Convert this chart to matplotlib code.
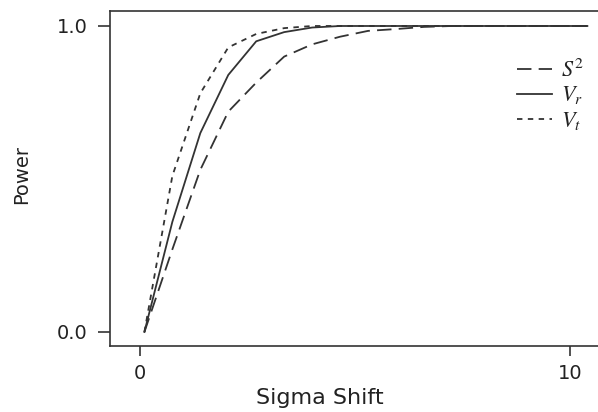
import numpy as np
import matplotlib
matplotlib.use("Agg")
import matplotlib.pyplot as plt

plt.rcParams['mathtext.fontset'] = 'stix'

# sigma shift grid and power curves
shift = [0.1, 0.75, 1.4, 2.05, 2.7, 3.35, 4.0, 4.65, 5.3, 5.95, 6.6,
         7.25, 7.9, 8.55, 9.2, 9.85, 10.4]
power_s2 = [0.0, 0.27, 0.53, 0.72, 0.815, 0.90, 0.94, 0.965, 0.984, 0.99,
            0.997, 1.0, 1.0, 1.0, 1.0, 1.0, 1.0]
power_vr = [0.0, 0.36, 0.65, 0.84, 0.95, 0.98, 0.995, 1.0, 1.0, 1.0, 1.0,
            1.0, 1.0, 1.0, 1.0, 1.0, 1.0]
power_vt = [0.0, 0.51, 0.78, 0.93, 0.974, 0.993, 1.0, 1.0, 1.0, 1.0, 1.0,
            1.0, 1.0, 1.0, 1.0, 1.0, 1.0]
labels = [r'$S^2$', r'$V_r$', r'$V_t$']

W, H = 598, 412
fig = plt.figure(figsize=(W / 100, H / 100), dpi=100)
# plot box runs past the right edge of the picture
ax = fig.add_axes([110 / W, 66 / H, 495 / W, 335 / H])

col = '#333333'
lw = 1.3
l1, = ax.plot(shift, power_s2, color=col, lw=lw, dashes=(8, 4))
l2, = ax.plot(shift, power_vr, color=col, lw=lw)
l3, = ax.plot(shift, power_vt, color=col, lw=lw, dashes=(3, 3))

ax.set_xlim(-0.70, 10.81)
ax.set_ylim(-0.0458, 1.049)
ax.set_xticks([0, 10])
ax.set_xticklabels(['0', '10'])
ax.set_yticks([0.0, 1.0])
ax.set_yticklabels(['0.0', '1.0'])

for s in ax.spines.values():
    s.set_color(col)
    s.set_linewidth(1.2)
ax.spines['right'].set_visible(False)
ax.tick_params(axis='x', length=7, width=1.2, color=col, pad=6,
               labelsize=14, labelcolor='#222222')
ax.tick_params(axis='y', length=9, width=1.2, color=col, pad=7,
               labelsize=14, labelcolor='#222222')

leg = ax.legend([l1, l2, l3], labels, loc='upper left',
                bbox_to_anchor=(508 / W, (H - 50) / H),
                bbox_transform=fig.transFigure, frameon=False,
                fontsize=16, handlelength=1.6, handletextpad=0.4,
                labelspacing=0.15, borderaxespad=0)
for t in leg.get_texts():
    t.set_color('#222222')

fig.text(320 / W, (H - 398) / H, 'Sigma Shift', fontsize=16,
         color='#222222', ha='center', va='center')
fig.text(22 / W, (H - 175) / H, 'Power', fontsize=14, rotation=90,
         color='#222222', ha='center', va='center')

fig.savefig('out.png', dpi=100)
